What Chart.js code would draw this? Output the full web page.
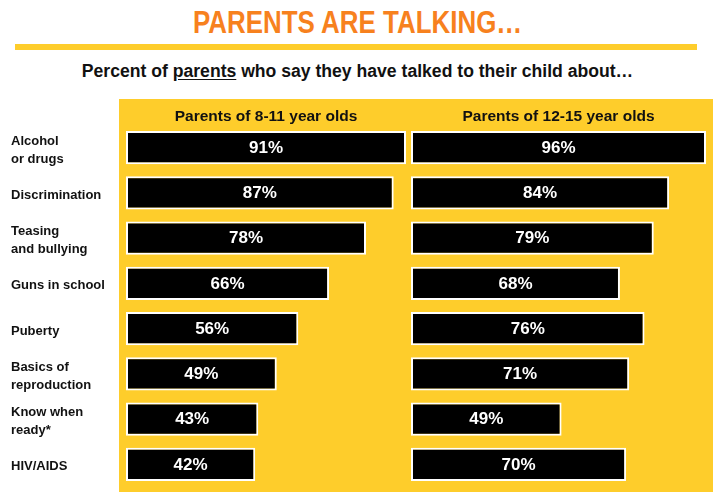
<!DOCTYPE html>
<html>
<head>
<meta charset="utf-8">
<title>Parents are talking…</title>
<script src="https://cdn.jsdelivr.net/npm/chart.js@4/dist/chart.umd.min.js"></script>
<style>
  html, body { margin: 0; padding: 0; background: #fff; }
  body { position: relative; width: 715px; height: 492px; overflow: hidden;
         font-family: 'Liberation Sans', Arial, sans-serif; }
  #title { position: absolute; left: 0; top: 6px; width: 715px; text-align: center;
           font-size: 32px; line-height: 32px; font-weight: bold; color: #F7811E;
           transform: scaleX(0.81); transform-origin: 358px 0; white-space: nowrap; }
  #rule { position: absolute; left: 15px; top: 44px; width: 682px; height: 6px; background: #FECD2B; }
  #subtitle { position: absolute; left: 0; top: 63px; width: 715px; text-align: center;
              font-size: 17.6px; line-height: 17.6px; font-weight: bold; color: #111; white-space: nowrap; }
  #subtitle u { text-underline-offset: 2px; }
  #panel { position: absolute; left: 119px; top: 99px; width: 594px; height: 393px; background: #FECD2B; }
  canvas { position: absolute; top: 99px; }
  #left { left: 0; }
  #right { left: 411px; }
</style>
</head>
<body>
<div id="title">PARENTS ARE TALKING…</div>
<div id="rule"></div>
<div id="subtitle">Percent of <u>parents</u> who say they have talked to their child about…</div>
<div id="panel"></div>
<canvas id="left" width="411" height="393"></canvas>
<canvas id="right" width="304" height="393"></canvas>
<script>
// Topics parents were asked about (multi-line labels as arrays)
const topics = [
  ['Alcohol', 'or drugs'],
  'Discrimination',
  ['Teasing', 'and bullying'],
  'Guns in school',
  'Puberty',
  ['Basics of', 'reproduction'],
  ['Know when', 'ready*'],
  'HIV/AIDS'
];
// Percent of parents who have talked about each topic
const parents8to11 = [91, 87, 78, 66, 56, 49, 43, 42];
const parents12to15 = [96, 84, 79, 68, 76, 71, 49, 70];
const groupTitles = ['Parents of 8-11 year olds', 'Parents of 12-15 year olds'];

const FONT = "'Liberation Sans', Arial, sans-serif";

// Writes each bar's value, centred inside the bar
const barValueLabels = {
  id: 'barValueLabels',
  afterDatasetsDraw(chart) {
    const ctx = chart.ctx;
    ctx.save();
    ctx.fillStyle = '#fff';
    ctx.font = 'bold 17px ' + FONT;
    ctx.textAlign = 'center';
    ctx.textBaseline = 'middle';
    chart.data.datasets.forEach((ds, di) => {
      chart.getDatasetMeta(di).data.forEach((bar, i) => {
        const p = bar.getProps(['x', 'y', 'base'], true);
        ctx.fillText(ds.data[i] + '%', (p.x + p.base) / 2, p.y + 0.5);
      });
    });
    ctx.restore();
  }
};

function makeChart(canvasId, values, heading, showTopics, padding) {
  return new Chart(document.getElementById(canvasId), {
    type: 'bar',
    data: {
      labels: topics,
      datasets: [{
        data: values,
        backgroundColor: '#000',
        borderColor: '#fff',
        borderWidth: 2,
        borderSkipped: false,
        barPercentage: 0.73,
        categoryPercentage: 1
      }]
    },
    options: {
      indexAxis: 'y',
      responsive: false,
      animation: false,
      devicePixelRatio: 1,
      layout: { padding: padding },
      scales: {
        x: { display: false, min: 0, max: Math.max(...values) },
        y: {
          display: showTopics,
          grid: { display: false },
          border: { display: false },
          ticks: {
            crossAlign: 'far',
            padding: 0,
            labelOffset: 2.5,
            color: '#111',
            font: { family: FONT, size: 13, weight: 'bold', lineHeight: 1.4 }
          },
          afterFit(scale) {
            // fixed-width label column; no extra room for label overhang
            scale.width = showTopics ? 115 : 0;
            scale.paddingTop = 0;
            scale.paddingBottom = 0;
          }
        }
      },
      plugins: {
        legend: { display: false },
        tooltip: { enabled: false },
        title: {
          display: true,
          text: heading,
          fullSize: false,
          color: '#111',
          font: { family: FONT, size: 15.5, weight: 'bold', lineHeight: 1 },
          padding: { top: 10.25, bottom: 0.25 }
        }
      }
    },
    plugins: [barValueLabels]
  });
}

makeChart('left', parents8to11, groupTitles[0], true, { left: 11, right: 5, top: 0, bottom: 5 });
makeChart('right', parents12to15, groupTitles[1], false, { left: 0, right: 9, top: 0, bottom: 5 });
</script>
</body>
</html>
